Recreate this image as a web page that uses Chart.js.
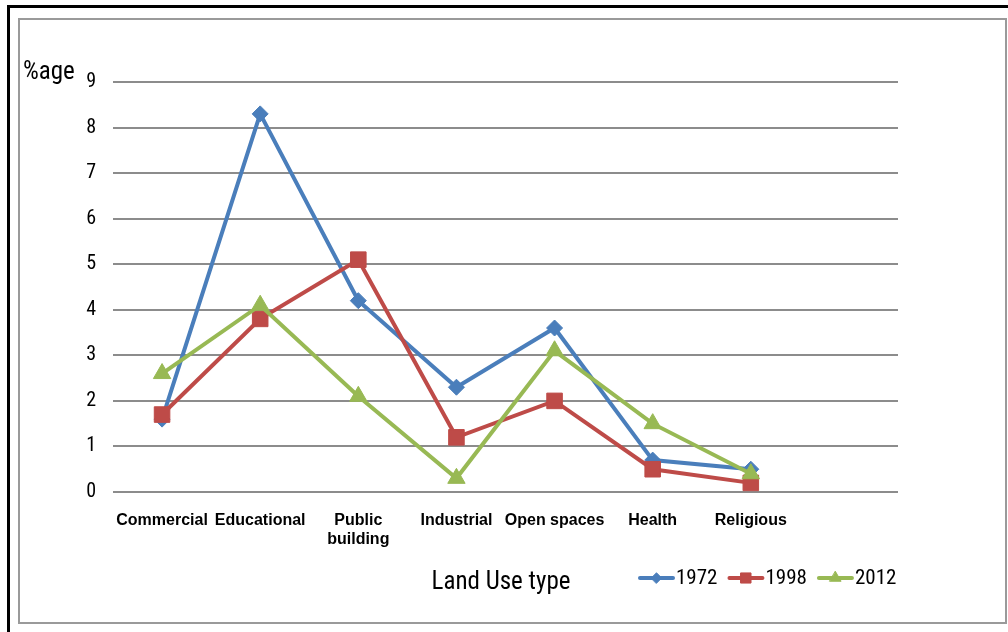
<!DOCTYPE html>
<html>
<head>
<meta charset="utf-8">
<script src="https://cdn.jsdelivr.net/npm/chart.js@4.4.0/dist/chart.umd.min.js"></script>
<style>
  html, body { margin: 0; padding: 0; background: #fff; }
  #wrap { width: 1008px; height: 632px; position: relative; }
</style>
</head>
<body>
<div id="wrap"><canvas id="landUse"></canvas></div>
<script>
// Categories (the last empty slot keeps the plot wider than the data, as in the original)
const categories = ['Commercial', 'Educational', ['Public', 'building'], 'Industrial', 'Open spaces', 'Health', 'Religious', ''];
const years = ['1972', '1998', '2012'];
const values1972 = [1.6, 8.3, 4.2, 2.3, 3.6, 0.7, 0.5];
const values1998 = [1.7, 3.8, 5.1, 1.2, 2.0, 0.5, 0.2];
const values2012 = [2.6, 4.1, 2.1, 0.3, 3.1, 1.5, 0.4];
const yTicks = [0, 1, 2, 3, 4, 5, 6, 7, 8, 9];

const NARROW = '"Liberation Sans Narrow", "Arial Narrow", "Roboto Condensed", sans-serif';

// Frame, y label, axis title and a line+marker legend
const decorations = {
    id: 'decorations',
    beforeDraw(chart) {
        const ctx = chart.ctx;
        ctx.save();
        ctx.fillStyle = '#fff';
        ctx.fillRect(0, 0, chart.width, chart.height);
        ctx.fillStyle = '#000';
        ctx.fillRect(7, 5, chart.width - 7, 3);
        ctx.fillRect(7, 5, 3, chart.height - 5);
        ctx.strokeStyle = '#9a9a9a';
        ctx.lineWidth = 2;
        ctx.strokeRect(19, 19, 987, 604);
        ctx.restore();
    },
    afterDraw(chart) {
        const ctx = chart.ctx;
        ctx.save();
        ctx.fillStyle = '#000';
        ctx.textBaseline = 'middle';
        ctx.font = '25px ' + NARROW;
        ctx.textAlign = 'left';
        ctx.fillText('%age', 23, 73);
        ctx.textAlign = 'center';
        ctx.fillText('Land Use type', 501, 583);

        // legend
        ctx.font = '21px ' + NARROW;
        ctx.textAlign = 'left';
        let x = 640;
        const y = 578;
        chart.data.datasets.forEach(ds => {
            ctx.strokeStyle = ds.borderColor;
            ctx.fillStyle = ds.borderColor;
            ctx.lineWidth = 4;
            ctx.lineCap = 'round';
            ctx.beginPath();
            ctx.moveTo(x, y);
            ctx.lineTo(x + 33, y);
            ctx.stroke();
            ctx.lineWidth = 1;
            Chart.helpers.drawPoint(ctx, {
                pointStyle: ds.pointStyle,
                radius: ds.pointRadius * 0.65,
                rotation: 0,
                borderWidth: 1
            }, x + 16.5, y);
            ctx.fillStyle = '#000';
            ctx.fillText(ds.label, x + 36, y + 1);
            x += 36 + ctx.measureText(ds.label).width + 12;
        });
        ctx.restore();
    }
};

function series(label, data, color, style, radius, order) {
    return {
        label: label,
        data: data,
        borderColor: color,
        backgroundColor: color,
        pointBackgroundColor: color,
        pointBorderColor: color,
        borderWidth: 4,
        pointStyle: style,
        pointRadius: radius,
        pointBorderWidth: 1,
        tension: 0,
        order: order
    };
}

new Chart(document.getElementById('landUse'), {
    type: 'line',
    data: {
        labels: categories,
        datasets: [
            series(years[0], values1972, '#4a7ebb', 'rectRot', 8, 3),
            series(years[1], values1998, '#be4b48', 'rect', 11, 2),
            series(years[2], values2012, '#98b954', 'triangle', 10, 1)
        ]
    },
    options: {
        responsive: true,
        maintainAspectRatio: false,
        animation: false,
        layout: { padding: { left: 0, top: 82, right: 110, bottom: 0 } },
        plugins: {
            legend: { display: false },
            tooltip: { enabled: false }
        },
        scales: {
            x: {
                offset: true,
                grid: { display: false },
                border: { display: false },
                ticks: {
                    color: '#000',
                    font: { family: '"Liberation Sans", Arial, sans-serif', size: 16, weight: 'bold' },
                    maxRotation: 0,
                    autoSkip: false,
                    padding: 11
                },
                afterFit(scale) { scale.height = 140; }
            },
            y: {
                min: 0,
                max: 9,
                afterBuildTicks(scale) { scale.ticks = yTicks.map(v => ({ value: v })); },
                grid: { color: '#8c8c8c', lineWidth: 2, drawTicks: false },
                border: { display: false },
                ticks: {
                    color: '#000',
                    font: { family: NARROW, size: 20 },
                    padding: 17
                },
                afterFit(scale) { scale.width = 113; }
            }
        }
    },
    plugins: [decorations]
});
</script>
</body>
</html>
